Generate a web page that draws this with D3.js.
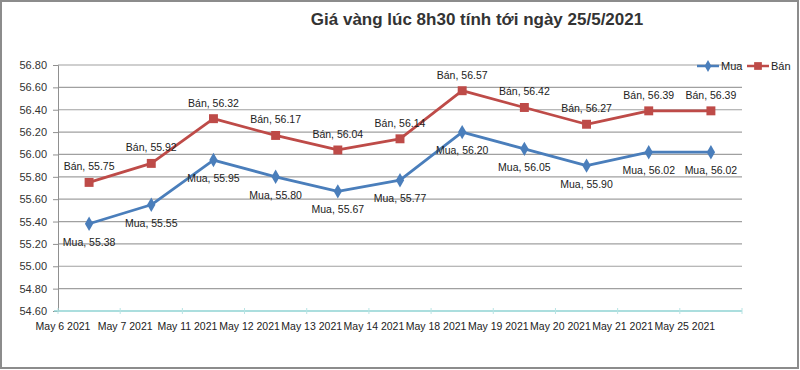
<!DOCTYPE html>
<html>
<head>
<meta charset="utf-8">
<script src="https://cdn.jsdelivr.net/npm/d3@7"></script>
<style>
body { margin: 0; background: #fff; }
svg { display: block; font-family: "Liberation Sans", Arial, sans-serif; }
</style>
</head>
<body>
<div id="chart"></div>
<script>
var dates = ['May 6 2021','May 7 2021','May 11 2021','May 12 2021','May 13 2021','May 14 2021','May 18 2021','May 19 2021','May 20 2021','May 21 2021','May 25 2021'];
var mua = [55.38,55.55,55.95,55.80,55.67,55.77,56.20,56.05,55.90,56.02,56.02];
var ban = [55.75,55.92,56.32,56.17,56.04,56.14,56.57,56.42,56.27,56.39,56.39];
var yTicks = [54.6,54.8,55.0,55.2,55.4,55.6,55.8,56.0,56.2,56.4,56.6,56.8];

var w = 800, h = 370;
var plotL = 58, plotR = 742, plotT = 65, plotB = 311;
var blue = '#4a7ebb', red = '#be4b48';

var svg = d3.select('#chart').append('svg')
            .attr('width', w)
            .attr('height', h);

// chart frame
svg.append('rect')
   .attr('x', 1).attr('y', 1)
   .attr('width', w - 3).attr('height', h - 3)
   .attr('fill', '#fff')
   .attr('stroke', '#8c8c8c')
   .attr('stroke-width', 2);

var x = d3.scaleBand().domain(dates).range([plotL, plotR]).padding(0);
var y = d3.scaleLinear().domain([54.6, 56.8]).range([plotB, plotT]);
var cx = function(d, i){ return x(dates[i]) + x.bandwidth() / 2; };

// gridlines
svg.append('g').selectAll('line')
   .data(yTicks.slice(1))
   .enter().append('line')
   .attr('x1', plotL).attr('x2', plotR)
   .attr('y1', function(d){ return y(d); })
   .attr('y2', function(d){ return y(d); })
   .attr('stroke', '#a0a0a0')
   .attr('stroke-width', 1.2);

// y axis
var yAxis = svg.append('g')
   .attr('transform', 'translate(' + plotL + ',0)')
   .call(d3.axisLeft(y).tickValues(yTicks).tickFormat(d3.format('.2f')).tickSize(5).tickPadding(6));
yAxis.select('.domain').attr('stroke', '#909090');
yAxis.selectAll('.tick line').attr('stroke', '#909090');
yAxis.selectAll('text').attr('font-size', 11).attr('fill', '#333')
     .attr('font-family', '"Liberation Sans", Arial, sans-serif');

// x axis (ticks at category boundaries)
var xg = svg.append('g');
xg.append('line')
  .attr('x1', plotL - 4).attr('x2', plotR)
  .attr('y1', plotB).attr('y2', plotB)
  .attr('stroke', '#8fd3d3').attr('stroke-width', 1.3);
xg.selectAll('.xt')
  .data(dates.concat(['end']))
  .enter().append('line')
  .attr('class', 'xt')
  .attr('x1', function(d, i){ return plotL + i * x.bandwidth(); })
  .attr('x2', function(d, i){ return plotL + i * x.bandwidth(); })
  .attr('y1', plotB - 3).attr('y2', plotB + 3)
  .attr('stroke', '#b8e4e4');
xg.selectAll('text')
  .data(dates)
  .enter().append('text')
  .attr('x', function(d){ return x(d) + 5; })
  .attr('y', plotB + 19)
  .attr('text-anchor', 'middle')
  .attr('font-size', 10.5)
  .attr('fill', '#222')
  .text(function(d){ return d; });

// series
var series = [
  {name: 'Mua', values: mua, color: blue, dy: 22},
  {name: 'Bán', values: ban, color: red, dy: -12}
];

var line = d3.line()
  .x(function(d, i){ return cx(d, i); })
  .y(function(d){ return y(d); });

series.forEach(function(s){
  var g = svg.append('g');
  g.append('path')
   .datum(s.values)
   .attr('d', line)
   .attr('fill', 'none')
   .attr('stroke', s.color)
   .attr('stroke-width', 2.8)
   .attr('stroke-linejoin', 'round');
  var sym = s.name === 'Mua' ? d3.symbolDiamond : d3.symbolSquare;
  var sz = s.name === 'Mua' ? 60 : 80;
  g.selectAll('path.m')
   .data(s.values)
   .enter().append('path')
   .attr('class', 'm')
   .attr('d', d3.symbol().type(sym).size(sz))
   .attr('transform', function(d, i){ return 'translate(' + cx(d, i) + ',' + y(d) + ')'; })
   .attr('fill', s.color);
  g.selectAll('text')
   .data(s.values)
   .enter().append('text')
   .attr('x', function(d, i){ return cx(d, i); })
   .attr('y', function(d){ return y(d) + s.dy; })
   .attr('text-anchor', 'middle')
   .attr('font-size', 10.5)
   .attr('fill', '#222')
   .text(function(d){ return s.name + ', ' + d3.format('.2f')(d); });
});

// legend
var legend = svg.append('g').attr('transform', 'translate(697,66)');
series.forEach(function(s, i){
  var lg = legend.append('g').attr('transform', 'translate(' + (i * 50) + ',0)');
  lg.append('line').attr('x1', 0).attr('x2', 22).attr('y1', 0).attr('y2', 0)
    .attr('stroke', s.color).attr('stroke-width', 2.5);
  lg.append('path')
    .attr('d', d3.symbol().type(s.name === 'Mua' ? d3.symbolDiamond : d3.symbolSquare).size(s.name === 'Mua' ? 40 : 60))
    .attr('transform', 'translate(11,0)')
    .attr('fill', s.color);
  lg.append('text').attr('x', 24).attr('y', 4)
    .attr('font-size', 11).attr('fill', '#222')
    .text(s.name);
});

// title
svg.append('text')
   .attr('x', 477).attr('y', 25)
   .attr('text-anchor', 'middle')
   .attr('font-size', 17)
   .attr('font-weight', 'bold')
   .attr('fill', '#333')
   .text('Giá vàng lúc 8h30 tính tới ngày 25/5/2021');
</script>
</body>
</html>
